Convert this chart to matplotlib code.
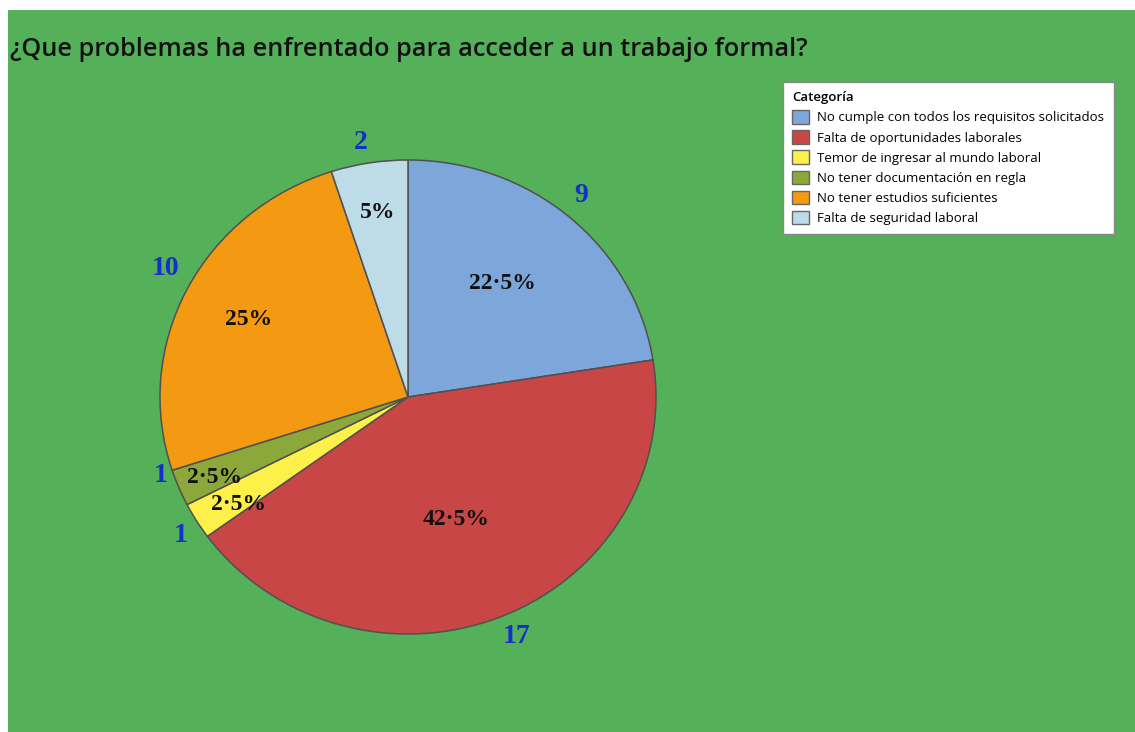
import matplotlib
matplotlib.use("Agg")
import matplotlib.pyplot as plt
import numpy as np
from matplotlib.patches import Rectangle, Patch

title = "¿Que problemas ha enfrentado para acceder a un trabajo formal?"
categories = [
    "No cumple con todos los requisitos solicitados",
    "Falta de oportunidades laborales",
    "Temor de ingresar al mundo laboral",
    "No tener documentación en regla",
    "No tener estudios suficientes",
    "Falta de seguridad laboral",
]
counts = [9, 17, 1, 1, 10, 2]
colors = ["#7DA6DA", "#C84646", "#FDF04A", "#8CA83A", "#F49A12", "#BEDCE8"]

# label placement (style)
pct_dist = [0.61, 0.55, 0.82, 0.85, 0.72, 0.79]
pct_ang_off = [2, -2, 2, 1, 0, 0]
cnt_dist = [1.10, 1.10, 1.085, 1.05, 1.12, 1.09]
cnt_ang_off = [1, 1, 1, -4, -2, 1]

W, H, DPI = 1135, 732, 100
fig = plt.figure(figsize=(W / DPI, H / DPI), dpi=DPI, facecolor="white")
fig.patches.append(Rectangle((8 / W, 0), 1 - 8 / W, (H - 10) / H,
                             transform=fig.transFigure, facecolor="#55B05A",
                             edgecolor="none", zorder=-10))

rx, ry = 248, 237
cx, cy = 408, H - 397
xl, yl = 1.5, 1.4
ax = fig.add_axes([(cx - xl * rx) / W, (cy - yl * ry) / H,
                   2 * xl * rx / W, 2 * yl * ry / H])
ax.set_facecolor("none")
ax.patch.set_alpha(0)
wedges, _ = ax.pie(counts, colors=colors, startangle=90, counterclock=False,
                   wedgeprops=dict(edgecolor="#505050", linewidth=1.1))
ax.set_aspect("auto")
ax.set_xlim(-xl, xl)
ax.set_ylim(-yl, yl)
ax.axis("off")

total = sum(counts)
for i, w in enumerate(wedges):
    mid = np.deg2rad((w.theta1 + w.theta2) / 2 + pct_ang_off[i])
    pct = 100 * counts[i] / total
    s = f"{pct:.1f}%" if pct % 1 else f"{pct:.0f}%"
    s = s.replace(".", "·")
    ax.text(pct_dist[i] * np.cos(mid), pct_dist[i] * np.sin(mid), s,
            ha="center", va="center", fontsize=17, fontweight="bold",
            family="Liberation Serif", color="#111111")
    mid2 = np.deg2rad((w.theta1 + w.theta2) / 2 + cnt_ang_off[i])
    ax.text(cnt_dist[i] * np.cos(mid2), cnt_dist[i] * np.sin(mid2), str(counts[i]),
            ha="center", va="center", fontsize=20, fontweight="bold",
            family="Liberation Serif", color="#1530C8")

fig.text(10 / W, 1 - 50 / H, title, ha="left", va="center", fontsize=18.2,
         family="Open Sans", fontweight="semibold", color="#111111")

handles = [Patch(facecolor=c, edgecolor="#666666") for c in colors]
leg = fig.legend(handles, categories, title="Categoría",
                 loc="upper left", bbox_to_anchor=(783 / W, 1 - 82 / H),
                 prop=dict(family="Open Sans", size=9.5),
                 title_fontproperties=dict(family="Open Sans", size=9.5,
                                           weight="semibold"),
                 frameon=True, fancybox=False, edgecolor="#888888",
                 framealpha=1, facecolor="white",
                 handlelength=1.3, handleheight=1.2, handletextpad=0.6,
                 labelspacing=0.45, borderpad=0.7, borderaxespad=0)
leg._legend_box.align = "left"
leg.get_frame().set_linewidth(1.0)

fig.savefig("out.png", dpi=DPI, facecolor=fig.get_facecolor())
